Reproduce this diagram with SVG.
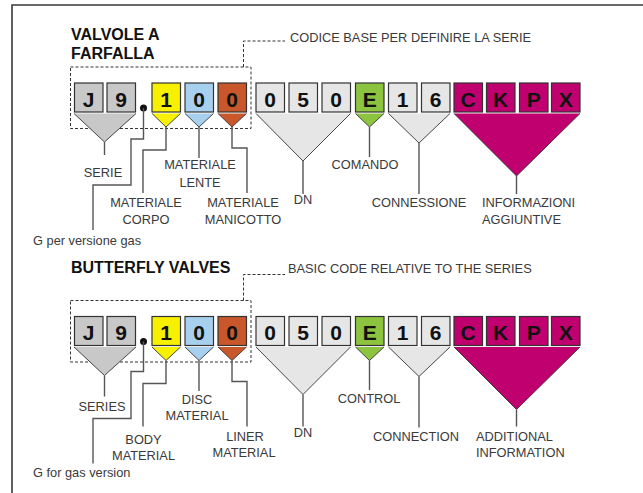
<svg xmlns="http://www.w3.org/2000/svg" width="643" height="493" viewBox="0 0 643 493">
<style>
.frame{fill:none;stroke:#3a3a3a;stroke-width:1.6}
.box{stroke:#333;stroke-width:1.2}
.tri{stroke:#333;stroke-width:0.9}
.gray{fill:#c8c8c8}.light{fill:#e6e6e6}.yel{fill:#f7f000}.blu{fill:#a7d0ee}.ora{fill:#c8572b}.grn{fill:#8cc33f}.mag{fill:#c0006f}
.ch{font-family:"Liberation Sans",Arial,sans-serif;font-weight:bold;font-size:21px;fill:#111;text-anchor:middle}
.title{font-family:"Liberation Sans",Arial,sans-serif;font-weight:bold;font-size:16px;fill:#111}
.lbl{font-family:"Liberation Sans",Arial,sans-serif;font-size:12.8px;fill:#3a3a3a;text-anchor:middle}
.lbs{font-family:"Liberation Sans",Arial,sans-serif;font-size:12.8px;fill:#3a3a3a}
.con{fill:none;stroke:#555;stroke-width:1.4}
.dash{fill:none;stroke:#333;stroke-width:1;stroke-dasharray:3 2}
</style>
<path class="frame" d="M12,493 V5 H643"/>

<!-- Italian section -->
<g id="it">
<text class="title" x="71" y="40">VALVOLE A</text>
<text class="title" x="71" y="59">FARFALLA</text>
<g id="it-base"><rect class="dash" x="70.5" y="67" width="180.5" height="61.5"/></g>
<g id="it-serie">
<path class="gray tri" d="M74,113.5 L104.5,142 L136,113.5"/>
<rect class="box gray" x="74.5" y="83" width="28.5" height="29"/><text class="ch" x="88.7" y="106.5">J</text>
<rect class="box gray" x="107" y="83" width="28.5" height="29"/><text class="ch" x="121.2" y="106.5">9</text>
</g>
<g id="it-dot"><circle cx="143.5" cy="108" r="3.5" fill="#111"/></g>
<g id="it-corpo"><path class="yel tri" d="M152,113.5 L166,127 L180.5,113.5"/><rect class="box yel" x="152" y="83" width="28.5" height="29"/><text class="ch" x="166.2" y="106.5">1</text></g>
<g id="it-lente"><path class="blu tri" d="M185,113.5 L199,127 L213.5,113.5"/><rect class="box blu" x="185" y="83" width="28.5" height="29"/><text class="ch" x="199.2" y="106.5">0</text></g>
<g id="it-manicotto"><path class="ora tri" d="M218,113.5 L232,127 L246.5,113.5"/><rect class="box ora" x="218" y="83" width="28.5" height="29"/><text class="ch" x="232.2" y="106.5">0</text></g>
<g id="it-dn"><path class="light tri" d="M256,113.5 L303,161 L350.5,113.5"/>
<rect class="box light" x="256" y="83" width="28.5" height="29"/><text class="ch" x="270.2" y="106.5">0</text>
<rect class="box light" x="289" y="83" width="28.5" height="29"/><text class="ch" x="303.2" y="106.5">5</text>
<rect class="box light" x="322" y="83" width="28.5" height="29"/><text class="ch" x="336.2" y="106.5">0</text></g>
<g id="it-comando"><path class="grn tri" d="M355.5,113.5 L369.5,127 L384,113.5"/><rect class="box grn" x="355.5" y="83" width="28.5" height="29"/><text class="ch" x="369.7" y="106.5">E</text></g>
<g id="it-connessione"><path class="light tri" d="M388.5,113.5 L419,143 L450,113.5"/>
<rect class="box light" x="388.5" y="83" width="28.5" height="29"/><text class="ch" x="402.7" y="106.5">1</text>
<rect class="box light" x="421.5" y="83" width="28.5" height="29"/><text class="ch" x="435.7" y="106.5">6</text></g>
<g id="it-info"><path class="mag tri" d="M454,113.5 L516.5,176 L580,113.5"/>
<rect class="box mag" x="454" y="83" width="28.5" height="29"/><text class="ch" x="468.2" y="106.5">C</text>
<rect class="box mag" x="486.5" y="83" width="28.5" height="29"/><text class="ch" x="500.7" y="106.5">K</text>
<rect class="box mag" x="519.5" y="83" width="28.5" height="29"/><text class="ch" x="533.7" y="106.5">P</text>
<rect class="box mag" x="551.5" y="83" width="28.5" height="29"/><text class="ch" x="565.7" y="106.5">X</text></g>
<g id="it-labels">
<text class="lbs" x="290" y="41.5">CODICE BASE PER DEFINIRE LA SERIE</text>
<text class="lbl" x="103" y="177">SERIE</text>
<text class="lbs" x="33" y="245">G per versione gas</text>
<text class="lbl" x="146" y="206.5">MATERIALE</text><text class="lbl" x="146" y="224">CORPO</text>
<text class="lbl" x="200" y="169">MATERIALE</text><text class="lbl" x="200" y="187">LENTE</text>
<text class="lbl" x="243" y="206.5">MATERIALE</text><text class="lbl" x="243" y="224">MANICOTTO</text>
<text class="lbl" x="303" y="204">DN</text>
<text class="lbl" x="365" y="169">COMANDO</text>
<text class="lbl" x="419" y="206.5">CONNESSIONE</text>
<text class="lbs" x="482" y="206.5">INFORMAZIONI</text><text class="lbs" x="482" y="224">AGGIUNTIVE</text>
</g>
</g>

<!-- English section -->
<g id="en">
<text class="title" x="71" y="272.5">BUTTERFLY VALVES</text>
<g transform="translate(0,233.5)">
<g id="en-base"><rect class="dash" x="70.5" y="67" width="180.5" height="61.5"/></g>
<g id="en-series">
<path class="gray tri" d="M74,113.5 L104.5,142 L136,113.5"/>
<rect class="box gray" x="74.5" y="83" width="28.5" height="29"/><text class="ch" x="88.7" y="106.5">J</text>
<rect class="box gray" x="107" y="83" width="28.5" height="29"/><text class="ch" x="121.2" y="106.5">9</text>
</g>
<g id="en-dot"><circle cx="143.5" cy="108" r="3.5" fill="#111"/></g>
<g id="en-body"><path class="yel tri" d="M152,113.5 L166,127 L180.5,113.5"/><rect class="box yel" x="152" y="83" width="28.5" height="29"/><text class="ch" x="166.2" y="106.5">1</text></g>
<g id="en-disc"><path class="blu tri" d="M185,113.5 L199,127 L213.5,113.5"/><rect class="box blu" x="185" y="83" width="28.5" height="29"/><text class="ch" x="199.2" y="106.5">0</text></g>
<g id="en-liner"><path class="ora tri" d="M218,113.5 L232,127 L246.5,113.5"/><rect class="box ora" x="218" y="83" width="28.5" height="29"/><text class="ch" x="232.2" y="106.5">0</text></g>
<g id="en-dn"><path class="light tri" d="M256,113.5 L303,161 L350.5,113.5"/>
<rect class="box light" x="256" y="83" width="28.5" height="29"/><text class="ch" x="270.2" y="106.5">0</text>
<rect class="box light" x="289" y="83" width="28.5" height="29"/><text class="ch" x="303.2" y="106.5">5</text>
<rect class="box light" x="322" y="83" width="28.5" height="29"/><text class="ch" x="336.2" y="106.5">0</text></g>
<g id="en-control"><path class="grn tri" d="M355.5,113.5 L369.5,127 L384,113.5"/><rect class="box grn" x="355.5" y="83" width="28.5" height="29"/><text class="ch" x="369.7" y="106.5">E</text></g>
<g id="en-connection"><path class="light tri" d="M388.5,113.5 L419,143 L450,113.5"/>
<rect class="box light" x="388.5" y="83" width="28.5" height="29"/><text class="ch" x="402.7" y="106.5">1</text>
<rect class="box light" x="421.5" y="83" width="28.5" height="29"/><text class="ch" x="435.7" y="106.5">6</text></g>
<g id="en-info"><path class="mag tri" d="M454,113.5 L516.5,176 L580,113.5"/>
<rect class="box mag" x="454" y="83" width="28.5" height="29"/><text class="ch" x="468.2" y="106.5">C</text>
<rect class="box mag" x="486.5" y="83" width="28.5" height="29"/><text class="ch" x="500.7" y="106.5">K</text>
<rect class="box mag" x="519.5" y="83" width="28.5" height="29"/><text class="ch" x="533.7" y="106.5">P</text>
<rect class="box mag" x="551.5" y="83" width="28.5" height="29"/><text class="ch" x="565.7" y="106.5">X</text></g>
</g>
<g id="en-labels">
<text class="lbs" x="288" y="273">BASIC CODE RELATIVE TO THE SERIES</text>
<text class="lbl" x="102" y="410.7">SERIES</text>
<text class="lbs" x="33" y="476.7">G for gas version</text>
<text class="lbl" x="143.5" y="444.3">BODY</text><text class="lbl" x="143.5" y="460">MATERIAL</text>
<text class="lbl" x="197" y="404">DISC</text><text class="lbl" x="197" y="420">MATERIAL</text>
<text class="lbl" x="245" y="441">LINER</text><text class="lbl" x="244" y="456.7">MATERIAL</text>
<text class="lbl" x="303" y="436.7">DN</text>
<text class="lbl" x="369" y="402.7">CONTROL</text>
<text class="lbl" x="416" y="440.7">CONNECTION</text>
<text class="lbs" x="476" y="440.7">ADDITIONAL</text><text class="lbs" x="476" y="456.7">INFORMATION</text>
</g>
</g>

<g id="connectors">
<path class="dash" d="M243.5,67 V41 H285"/>
<path class="con" d="M104.5,142 V155"/>
<path class="con" d="M143.5,108 V139 H131 V185 H93 V230"/>
<path class="con" d="M166,127 V150 H143 V193"/>
<path class="con" d="M199,127 V158"/>
<path class="con" d="M232,127 V148 H247 V193"/>
<path class="con" d="M303,161 V194"/>
<path class="con" d="M369.5,127 V157"/>
<path class="con" d="M419,143 V194"/>
<path class="con" d="M516.5,176 V194"/>
<path class="dash" d="M243.5,300.5 V274.5 H285"/>
<path class="con" d="M104.5,375.5 V396.5"/>
<path class="con" d="M143.5,341.5 V371.5 H131 V418.5 H93 V463.5"/>
<path class="con" d="M166,360.5 V383.5 H143 V426.5"/>
<path class="con" d="M199,360.5 V391"/>
<path class="con" d="M232,360.5 V381.5 H247 V426.5"/>
<path class="con" d="M303,394.5 V426.5"/>
<path class="con" d="M369.5,360.5 V390"/>
<path class="con" d="M419,376.5 V427.5"/>
<path class="con" d="M516.5,409.5 V426.5"/>
</g>
</svg>
